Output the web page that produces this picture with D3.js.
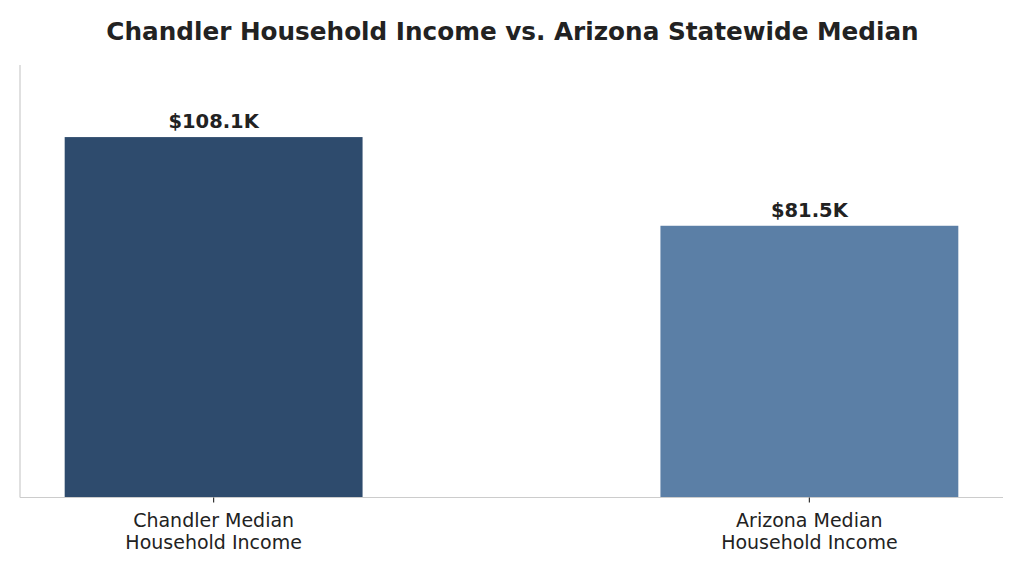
<!DOCTYPE html>
<html>
<head>
<meta charset="utf-8">
<script src="https://cdn.jsdelivr.net/npm/d3@7"></script>
<style>
  body { margin: 0; background: #fff; }
  text { font-family: "DejaVu Sans", sans-serif; fill: #222; }
</style>
</head>
<body>
<div id="chart"></div>
<script>
// chart data
const categories = ["Chandler Median\nHousehold Income", "Arizona Median\nHousehold Income"];
const incomes = [108.1, 81.5];
const valueLabels = ["$108.1K", "$81.5K"];
const barColors = ["#2e4b6d", "#5b7fa6"];

const width = 1024, height = 573;
const plotLeft = 20, plotRight = 1003, plotTop = 65, plotBottom = 497.5;

const svg = d3.select("#chart").append("svg")
    .attr("width", width).attr("height", height);

// band positions like matplotlib: centers at 0 and 1, bar width 0.5
const xScale = d3.scaleLinear().domain([-0.325, 1.325]).range([plotLeft, plotRight]);
const yScale = d3.scaleLinear().domain([0, 108.1 * 1.2]).range([plotBottom, plotTop]);
const barW = 0.5;

svg.append("text")
    .attr("x", width / 2 + 0.5).attr("y", 40)
    .attr("text-anchor", "middle")
    .attr("font-size", "24.7px").attr("font-weight", "bold")
    .text("Chandler Household Income vs. Arizona Statewide Median");

svg.selectAll("rect.bar")
    .data(incomes)
    .enter().append("rect")
    .attr("class", "bar")
    .attr("x", (d, i) => xScale(i - barW / 2))
    .attr("width", (d, i) => xScale(i + barW / 2) - xScale(i - barW / 2))
    .attr("y", d => yScale(d))
    .attr("height", d => plotBottom - yScale(d))
    .attr("fill", (d, i) => barColors[i]);

svg.selectAll("text.val")
    .data(incomes)
    .enter().append("text")
    .attr("class", "val")
    .attr("x", (d, i) => xScale(i))
    .attr("y", d => yScale(d) - 9)
    .attr("text-anchor", "middle")
    .attr("font-size", "19.5px").attr("font-weight", "bold")
    .text((d, i) => valueLabels[i]);

// spines
svg.append("line").attr("x1", plotLeft).attr("x2", plotLeft).attr("y1", plotTop).attr("y2", plotBottom)
    .attr("stroke", "#cccccc").attr("stroke-width", 1.2);
svg.append("line").attr("x1", plotLeft).attr("x2", plotRight).attr("y1", plotBottom).attr("y2", plotBottom)
    .attr("stroke", "#cccccc").attr("stroke-width", 1.2);

// ticks + labels
const ticks = svg.selectAll("g.tick")
    .data(categories)
    .enter().append("g")
    .attr("class", "tick")
    .attr("transform", (d, i) => `translate(${xScale(i)},${plotBottom})`);
ticks.append("line").attr("y1", 0).attr("y2", 5).attr("stroke", "#333").attr("stroke-width", 1.2);
ticks.each(function(d) {
    const t = d3.select(this).append("text")
        .attr("text-anchor", "middle")
        .attr("font-size", "19px");
    d.split("\n").forEach((line, j) => {
        t.append("tspan").attr("x", 0).attr("y", 29 + j * 22).text(line);
    });
});
</script>
</body>
</html>
